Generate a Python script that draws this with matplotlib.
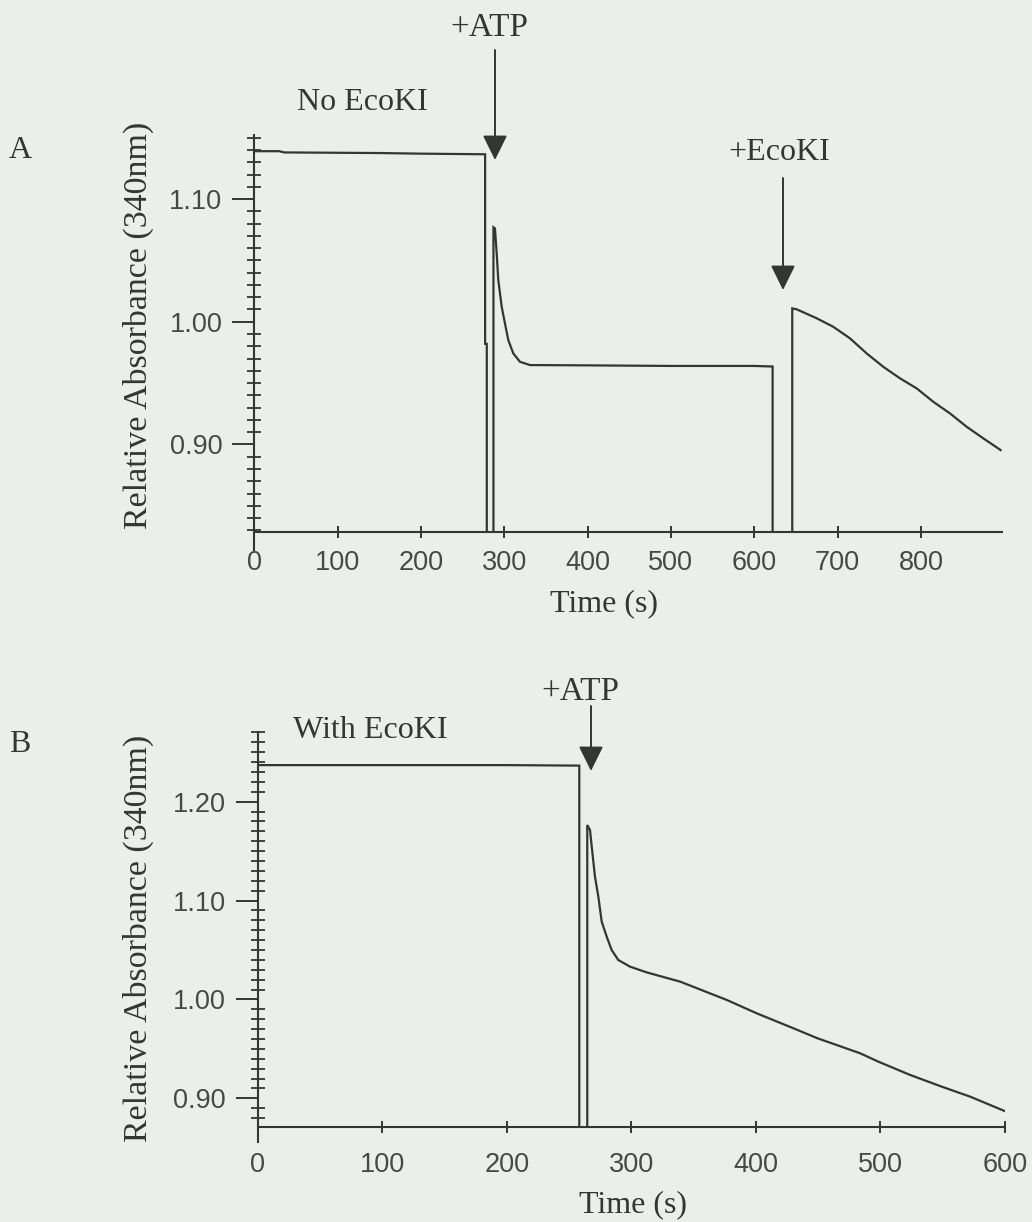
import matplotlib
matplotlib.use("Agg")
import matplotlib.pyplot as plt
from matplotlib.ticker import MultipleLocator, FixedLocator

# ---------------- data ----------------
# Panel A: No EcoKI, +ATP then +EcoKI
a_time = [0, 30, 36, 150, 200, 277, 277, 279, 279, 287, 287, 288.8, 290.9,
          292.8, 296.9, 300.8, 304.8, 310.8, 318.8, 330.8, 390, 500, 600,
          622, 622, 645.6, 645.6, 651, 675, 694.8, 714.8, 734.9, 754.8,
          774.9, 794.9, 814.8, 834.9, 854.9, 874.8, 895.7]
a_abs = [1.139, 1.139, 1.138, 1.1375, 1.137, 1.1365, 0.982, 0.982, 0.80,
         0.80, 1.077, 1.0761, 1.0557, 1.0340, 1.0122, 0.9987, 0.9851, 0.9742,
         0.9674, 0.9647, 0.9645, 0.964, 0.964, 0.9635, 0.80, 0.80, 1.0109,
         1.0101, 1.0028, 0.9959, 0.9865, 0.9742, 0.9633, 0.9539, 0.9457,
         0.9348, 0.9253, 0.9144, 0.9050, 0.8954]

# Panel B: With EcoKI, +ATP
b_time = [0, 100, 140, 200, 258.2, 258.2, 264.6, 264.6, 266.8, 268.2, 270.8,
          273.5, 276.2, 280.2, 284.2, 289.5, 298.9, 312, 339.2, 376.6, 400.6,
          430, 449.3, 483.6, 498.3, 523.7, 549.2, 572, 600]
b_abs = [1.237, 1.237, 1.237, 1.237, 1.2365, 0.85, 0.85, 1.1764, 1.1714,
         1.1545, 1.1242, 1.1039, 1.0787, 1.0635, 1.0500, 1.0399, 1.0332,
         1.0275, 1.0180, 0.9995, 0.9860, 0.9709, 0.9608, 0.9456, 0.9371,
         0.9237, 0.9118, 0.9017, 0.887]

a_xticks = [0, 100, 200, 300, 400, 500, 600, 700, 800]
a_yticks = [0.90, 1.00, 1.10]
b_xticks = [0, 100, 200, 300, 400, 500, 600]
b_yticks = [0.90, 1.00, 1.10, 1.20]

# ---------------- style ----------------
W, H = 1032, 1222
BG = "#eceeec"
INK = "#353535"
TICKC = "#454a45"
SERIF = ["Liberation Serif", "DejaVu Serif"]
SANS = ["Liberation Sans", "DejaVu Sans"]

fig = plt.figure(figsize=(W / 100, H / 100), dpi=100, facecolor=BG)


def rect(l, t, r, b):
    return [l / W, (H - b) / H, (r - l) / W, (b - t) / H]


def fp(x, y):
    return (x / W, (H - y) / H)


def style_axes(ax, xlim, ylim, xticks, yticks, xpad, spine_low):
    ax.set_facecolor("none")
    ax.set_xlim(*xlim)
    ax.set_ylim(*ylim)
    for s in ("top", "right"):
        ax.spines[s].set_visible(False)
    for s in ("left", "bottom"):
        ax.spines[s].set_linewidth(1.5)
        ax.spines[s].set_color(INK)
    ax.spines["left"].set_bounds(spine_low, ylim[1])
    ax.xaxis.set_major_locator(FixedLocator(xticks))
    ax.yaxis.set_major_locator(FixedLocator(yticks))
    ax.yaxis.set_minor_locator(MultipleLocator(0.01))
    ax.set_xticklabels([str(v) for v in xticks])
    ax.set_yticklabels([f"{v:.2f}" for v in yticks])
    ax.tick_params(axis="x", which="major", direction="inout", length=9,
                   width=1.4, color=INK, pad=xpad, labelsize=19.5,
                   labelcolor=TICKC)
    ax.tick_params(axis="y", which="major", direction="out", length=16,
                   width=1.4, color=INK, pad=7, labelsize=19.5,
                   labelcolor=TICKC)
    ax.tick_params(axis="y", which="minor", direction="inout", length=9.5,
                   width=1.3, color=INK)
    for lab in ax.get_xticklabels() + ax.get_yticklabels():
        lab.set_family(SANS)


# Panel A
axA = fig.add_axes(rect(254.3, 135, 1002, 531.7))
axA.plot(a_time, a_abs, color=INK, lw=1.6, solid_joinstyle="miter")
style_axes(axA, (0, 897.3), (0.8289, 1.1522), a_xticks, a_yticks, 8.6,
           0.8289 - 18 / 1227)

# Panel B
axB = fig.add_axes(rect(257.7, 731.7, 1005, 1126.7))
axB.plot(b_time, b_abs, color=INK, lw=1.6, solid_joinstyle="miter")
style_axes(axB, (0, 600), (0.8713, 1.2708), b_xticks, b_yticks, 13.7,
           0.8713 - 15 / 989)


def ftext(x, y, s, size=23, **kw):
    fig.text(*fp(x, y), s, ha="center", va="center", fontsize=size,
             family=SERIF, color=INK, **kw)


def farrow(x, y0, y1):
    fig.add_artist(matplotlib.patches.FancyArrowPatch(
        fp(x, y0), fp(x, y1), transform=fig.transFigure,
        arrowstyle="-|>,head_length=0.85,head_width=0.42", mutation_scale=18,
        color=INK, lw=1.4, shrinkA=0, shrinkB=0))


# Panel A texts
ftext(20, 150, "A")
ftext(489, 28, "+ATP", size=24)
ftext(362, 102, "No EcoKI")
ftext(779, 152, "+EcoKI")
ftext(604, 604, "Time (s)")
ftext(138, 325, "Relative Absorbance (340nm)", size=24.5, rotation=90)
farrow(495, 50, 160)
farrow(783, 178, 290)

# Panel B texts
ftext(20, 745, "B")
ftext(580, 692, "+ATP", size=24)
ftext(370, 730, "With EcoKI")
ftext(633, 1205, "Time (s)")
ftext(138, 938, "Relative Absorbance (340nm)", size=24.5, rotation=90)
farrow(591, 706, 771)

fig.savefig("out.png", dpi=100, facecolor=BG)
